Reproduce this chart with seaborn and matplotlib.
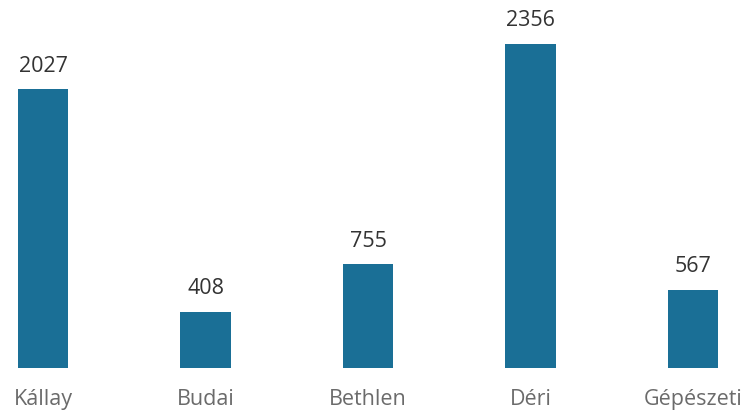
import pandas as pd
import seaborn as sns
import matplotlib.pyplot as plt

# Data
schools = ['Kállay', 'Budai', 'Bethlen', 'Déri', 'Gépészeti']
counts = [2027, 408, 755, 2356, 567]

df = pd.DataFrame({'School': schools, 'Count': counts})

sns.set_style('white')
plt.rcParams['font.family'] = ['Open Sans', 'DejaVu Sans']

fig = plt.figure(figsize=(7.45, 4.17), dpi=100)
ax = fig.add_axes([0, 0.1175, 1, 0.8825])

sns.barplot(data=df, x='School', y='Count', color='#1a6f96', saturation=1,
            width=0.31, errorbar=None, linewidth=0, ax=ax)

ax.set_xlim(-0.265, 4.32)
ax.set_ylim(0, 2674)

# Value labels on bars
for container in ax.containers:
    ax.bar_label(container, fmt='%d', padding=9, fontsize=15.5, color='#333333')

ax.set_xlabel('')
ax.set_ylabel('')
ax.set_yticks([])
ax.tick_params(axis='x', length=0, pad=15, labelsize=15.5, labelcolor='#6b6b6b')
sns.despine(ax=ax, left=True, bottom=True)

fig.savefig('out.png', dpi=100)
